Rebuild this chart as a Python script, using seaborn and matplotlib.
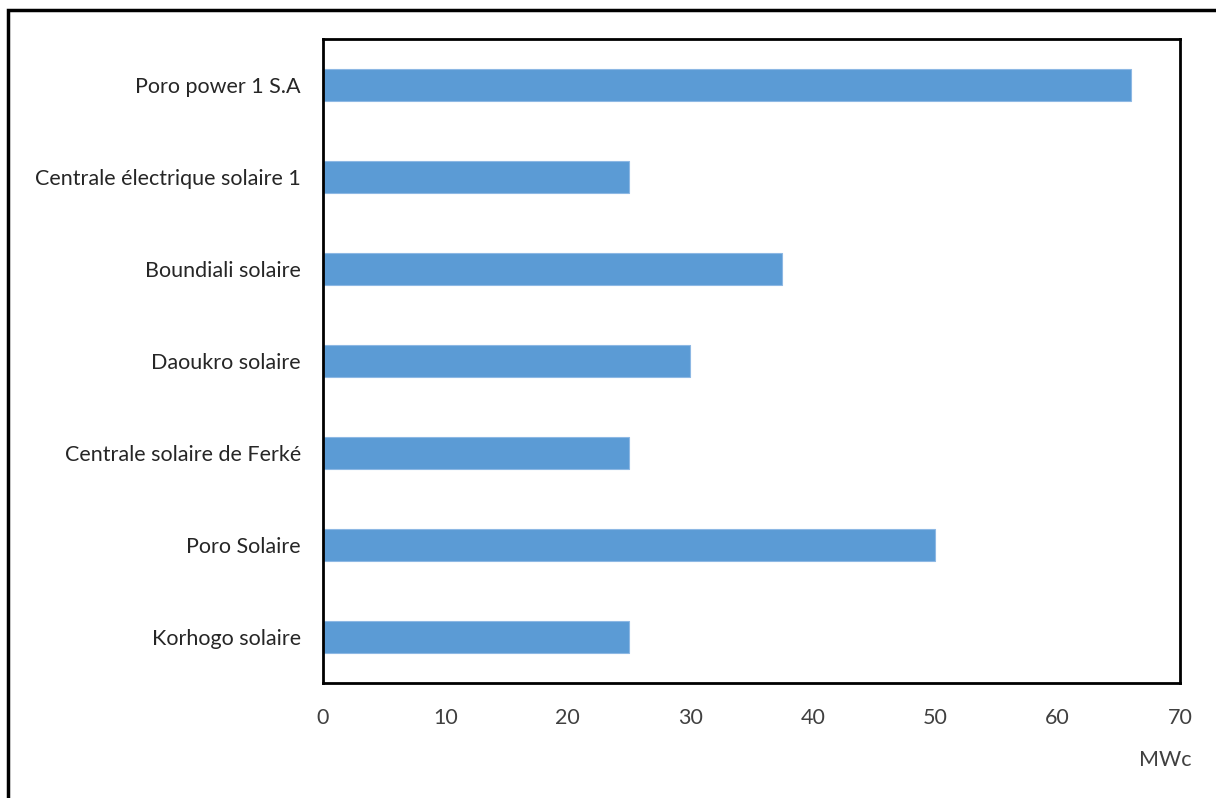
import matplotlib
matplotlib.use("Agg")
import matplotlib.pyplot as plt
import seaborn as sns
import pandas as pd
from matplotlib.patches import Rectangle

categories = ["Poro power 1 S.A", "Centrale électrique solaire 1", "Boundiali solaire",
              "Daoukro solaire", "Centrale solaire de Ferké", "Poro Solaire", "Korhogo solaire"]
values = [66, 25, 37.5, 30, 25, 50, 25]
xticks = [0, 10, 20, 30, 40, 50, 60, 70]

sns.set_theme(style="white")
plt.rcParams['font.family'] = ['Lato', 'DejaVu Sans']

df = pd.DataFrame({"cat": categories, "val": values})

fig = plt.figure(figsize=(12.16, 7.98), dpi=100)
ax = fig.add_axes([323/1216, 1-683/798, (1180-323)/1216, (683-39)/798])

sns.barplot(data=df, x="val", y="cat", orient="h", color="#5B9BD5", saturation=1,
            width=0.35, edgecolor="#8DB8E4", linewidth=0.8, ax=ax)

fs = 15.5
ax.set_xlim(0, 70)
ax.set_xticks(xticks)
ax.set_xticklabels([str(t) for t in xticks], fontsize=fs, color="#404040")
ax.tick_params(axis="y", labelsize=fs, labelcolor="#262626", length=0, pad=16)
ax.tick_params(axis="x", length=0, pad=18)
ax.set_xlabel("")
ax.set_ylabel("")
for s in ax.spines.values():
    s.set_visible(True)
    s.set_color("black")
    s.set_linewidth(2)

fig.text(1165/1216, 1-760/798, "MWc", fontsize=fs, color="#404040", ha="center", va="center")

fig.patches.append(Rectangle((8/1216, -0.05), 1.1, 1-10/798+0.05, transform=fig.transFigure,
                             fill=False, edgecolor="black", linewidth=2.5, figure=fig))

fig.savefig("out.png", dpi=100)
